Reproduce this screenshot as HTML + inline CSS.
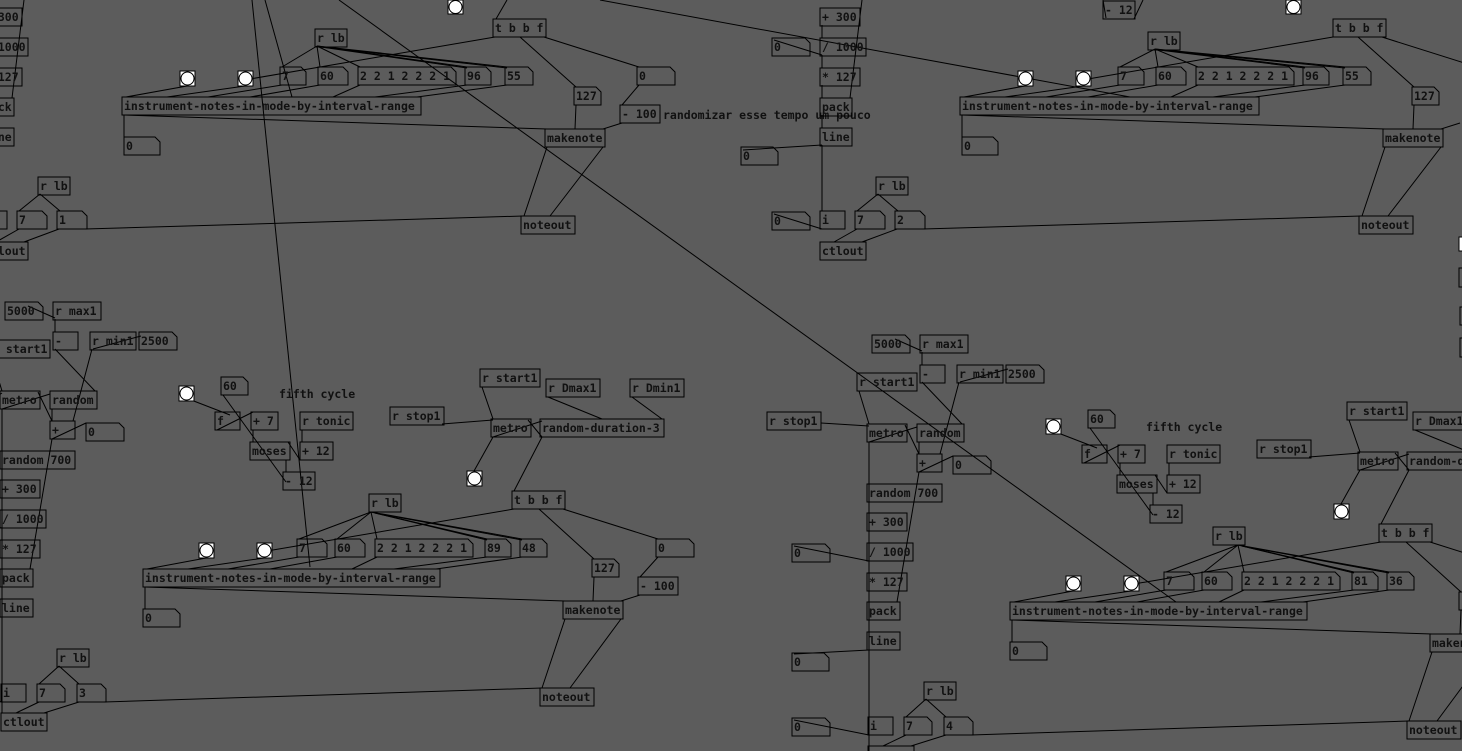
<!DOCTYPE html>
<html><head><meta charset="utf-8">
<style>
html,body{margin:0;padding:0;background:#5c5c5c;overflow:hidden}
svg{display:block}
text{font-family:"DejaVu Sans Mono","Liberation Mono",monospace;font-weight:bold;font-size:11.5px;fill:#111}
.o{fill:none;stroke:#000;stroke-width:1}
.a{fill:none;stroke:#000;stroke-width:1}
.b{fill:#fff;stroke:#000}
line{stroke:#000;stroke-width:1}
</style></head>
<body>
<svg width="1462" height="751" viewBox="0 0 1462 751" xmlns="http://www.w3.org/2000/svg">
<rect width="1462" height="751" fill="#5c5c5c"/>

<line x1="252" y1="0" x2="310" y2="567"/>
<line x1="265" y1="0" x2="292" y2="97"/>
<line x1="339" y1="0" x2="1176" y2="602"/>
<line x1="600" y1="0" x2="1130" y2="97"/>

<g transform="translate(0,0)">
<line x1="-16" y1="25" x2="-16" y2="38"/><line x1="-16" y1="55" x2="-16" y2="68"/><line x1="-16" y1="85" x2="-16" y2="98"/><line x1="-16" y1="115" x2="-16" y2="128"/><line x1="-16" y1="145" x2="-16" y2="211"/>
<line x1="-16" y1="145" x2="-95" y2="150"/>
<line x1="24" y1="0" x2="12" y2="98"/>
<line x1="-64" y1="40" x2="-16" y2="55"/>
<line x1="-64" y1="214" x2="-16" y2="229"/>
<line x1="40" y1="194" x2="19" y2="211"/><line x1="40" y1="194" x2="60" y2="211"/>
<line x1="19" y1="229" x2="-4" y2="242"/><line x1="59" y1="229" x2="24" y2="242"/>
<line x1="85" y1="229" x2="523" y2="216"/>
<line x1="507" y1="0" x2="496" y2="19"/>
<line x1="317" y1="46" x2="282" y2="67"/><line x1="317" y1="46" x2="320" y2="67"/><line x1="317" y1="46" x2="360" y2="67"/><line x1="317" y1="46" x2="467" y2="67"/><line x1="317" y1="46" x2="507" y2="67"/><line x1="321" y1="47" x2="467" y2="68"/><line x1="321" y1="47" x2="507" y2="68"/>
<line x1="495" y1="37" x2="250" y2="79"/><line x1="520" y1="37" x2="576" y2="87"/><line x1="544" y1="37" x2="639" y2="67"/>
<line x1="187" y1="86" x2="126" y2="97"/><line x1="245" y1="86" x2="167" y2="97"/><line x1="282" y1="85" x2="208" y2="97"/><line x1="320" y1="85" x2="250" y2="97"/><line x1="360" y1="85" x2="333" y2="97"/><line x1="467" y1="85" x2="375" y2="97"/><line x1="507" y1="85" x2="417" y2="97"/>
<line x1="124" y1="115" x2="124" y2="137"/><line x1="124" y1="115" x2="547" y2="129"/>
<line x1="576" y1="105" x2="575" y2="129"/><line x1="639" y1="85" x2="622" y2="105"/><line x1="622" y1="123" x2="603" y2="129"/>
<line x1="547" y1="147" x2="524" y2="216"/><line x1="603" y1="147" x2="550" y2="216"/>
<rect class="o" x="-18" y="8" width="40" height="18"/><text x="-16" y="21">+ 300</text>
<rect class="o" x="-18" y="38" width="46" height="18"/><text x="-16" y="51">/ 1000</text>
<rect class="o" x="-18" y="68" width="40" height="18"/><text x="-16" y="81">* 127</text>
<rect class="o" x="-18" y="98" width="32" height="18"/><text x="-16" y="111">pack</text>
<rect class="o" x="-18" y="128" width="32" height="18"/><text x="-16" y="141">line</text>
<rect class="o" x="-18" y="211" width="25" height="18"/><text x="-16" y="224">i</text>
<rect class="o" x="38" y="177" width="32" height="18"/><text x="40" y="190">r lb</text>
<rect class="o" x="-18" y="242" width="46" height="18"/><text x="-16" y="255">ctlout</text>
<path class="a" d="M-66,38h33l5,5v13h-38z"/><text x="-64" y="51">0</text>
<path class="a" d="M-97,147h32l5,5v13h-37z"/><text x="-95" y="160">0</text>
<path class="a" d="M-66,212h33l5,5v13h-38z"/><text x="-64" y="225">0</text>
<path class="a" d="M17,211h25l5,5v13h-30z"/><text x="19" y="224">7</text>
<path class="a" d="M57,211h25l5,5v13h-30z"/><text x="59" y="224">1</text>
<rect class="o" x="493" y="19" width="53" height="18"/><text x="495" y="32">t b b f</text>
<rect class="o" x="315" y="29" width="32" height="18"/><text x="317" y="42">r lb</text>
<rect class="b" x="448" y="0" width="15" height="14"/><circle class="b" cx="455.5" cy="7" r="6.5"/>
<rect class="b" x="180" y="71" width="15" height="15"/><circle class="b" cx="187.5" cy="78.5" r="6.5"/>
<rect class="b" x="238" y="71" width="15" height="15"/><circle class="b" cx="245.5" cy="78.5" r="6.5"/>
<path class="a" d="M280,67h21l5,5v13h-26z"/><text x="282" y="80">7</text>
<path class="a" d="M318,67h25l5,5v13h-30z"/><text x="320" y="80">60</text>
<path class="a" d="M358,67h93l5,5v13h-98z"/><text x="360" y="80">2 2 1 2 2 2 1</text>
<path class="a" d="M465,67h21l5,5v13h-26z"/><text x="467" y="80">96</text>
<path class="a" d="M505,67h23l5,5v13h-28z"/><text x="507" y="80">55</text>
<rect class="o" x="122" y="97" width="299" height="18"/><text x="124" y="110">instrument-notes-in-mode-by-interval-range</text>
<path class="a" d="M124,137h31l5,5v13h-36z"/><text x="126" y="150">0</text>
<path class="a" d="M637,67h33l5,5v13h-38z"/><text x="639" y="80">0</text>
<path class="a" d="M574,87h22l5,5v13h-27z"/><text x="576" y="100">127</text>
<rect class="o" x="620" y="105" width="40" height="18"/><text x="622" y="118">- 100</text>
<text x="663" y="119">randomizar esse tempo um pouco</text>
<rect class="o" x="545" y="129" width="60" height="18"/><text x="547" y="142">makenote</text>
<rect class="o" x="521" y="216" width="54" height="18"/><text x="523" y="229">noteout</text>
</g>

<g transform="translate(838,0)">
<line x1="-16" y1="25" x2="-16" y2="38"/><line x1="-16" y1="55" x2="-16" y2="68"/><line x1="-16" y1="85" x2="-16" y2="98"/><line x1="-16" y1="115" x2="-16" y2="128"/><line x1="-16" y1="145" x2="-16" y2="211"/>
<line x1="-16" y1="145" x2="-95" y2="150"/>
<line x1="24" y1="0" x2="12" y2="98"/>
<line x1="-64" y1="40" x2="-16" y2="55"/>
<line x1="-64" y1="214" x2="-16" y2="229"/>
<line x1="40" y1="194" x2="19" y2="211"/><line x1="40" y1="194" x2="60" y2="211"/>
<line x1="19" y1="229" x2="-4" y2="242"/><line x1="59" y1="229" x2="24" y2="242"/>
<line x1="85" y1="229" x2="523" y2="216"/>
<line x1="305" y1="0" x2="296" y2="19"/>
<line x1="265" y1="0" x2="268" y2="18"/>
<line x1="317" y1="49" x2="282" y2="67"/><line x1="317" y1="49" x2="320" y2="67"/><line x1="317" y1="49" x2="360" y2="67"/><line x1="317" y1="49" x2="467" y2="67"/><line x1="317" y1="49" x2="507" y2="67"/><line x1="321" y1="50" x2="467" y2="68"/><line x1="321" y1="50" x2="507" y2="68"/>
<line x1="495" y1="37" x2="250" y2="79"/><line x1="520" y1="37" x2="576" y2="87"/><line x1="544" y1="37" x2="639" y2="67"/>
<line x1="187" y1="86" x2="126" y2="97"/><line x1="245" y1="86" x2="167" y2="97"/><line x1="282" y1="85" x2="208" y2="97"/><line x1="320" y1="85" x2="250" y2="97"/><line x1="360" y1="85" x2="333" y2="97"/><line x1="467" y1="85" x2="375" y2="97"/><line x1="507" y1="85" x2="417" y2="97"/>
<line x1="124" y1="115" x2="124" y2="137"/><line x1="124" y1="115" x2="547" y2="129"/>
<line x1="576" y1="105" x2="575" y2="129"/><line x1="622" y1="123" x2="603" y2="129"/>
<line x1="547" y1="147" x2="524" y2="216"/><line x1="603" y1="147" x2="550" y2="216"/>
<rect class="o" x="-18" y="8" width="40" height="18"/><text x="-16" y="21">+ 300</text>
<rect class="o" x="-18" y="38" width="46" height="18"/><text x="-16" y="51">/ 1000</text>
<rect class="o" x="-18" y="68" width="40" height="18"/><text x="-16" y="81">* 127</text>
<rect class="o" x="-18" y="98" width="32" height="18"/><text x="-16" y="111">pack</text>
<rect class="o" x="-18" y="128" width="32" height="18"/><text x="-16" y="141">line</text>
<rect class="o" x="-18" y="211" width="25" height="18"/><text x="-16" y="224">i</text>
<rect class="o" x="38" y="177" width="32" height="18"/><text x="40" y="190">r lb</text>
<rect class="o" x="-18" y="242" width="46" height="18"/><text x="-16" y="255">ctlout</text>
<path class="a" d="M-66,38h33l5,5v13h-38z"/><text x="-64" y="51">0</text>
<path class="a" d="M-97,147h32l5,5v13h-37z"/><text x="-95" y="160">0</text>
<path class="a" d="M-66,212h33l5,5v13h-38z"/><text x="-64" y="225">0</text>
<path class="a" d="M17,211h25l5,5v13h-30z"/><text x="19" y="224">7</text>
<path class="a" d="M57,211h25l5,5v13h-30z"/><text x="59" y="224">2</text>
<rect class="o" x="265" y="1" width="32" height="18"/><text x="267" y="14">- 12</text>
<rect class="o" x="495" y="19" width="53" height="18"/><text x="497" y="32">t b b f</text>
<rect class="o" x="310" y="32" width="32" height="18"/><text x="312" y="45">r lb</text>
<rect class="b" x="448" y="0" width="15" height="14"/><circle class="b" cx="455.5" cy="7" r="6.5"/>
<rect class="b" x="180" y="71" width="15" height="15"/><circle class="b" cx="187.5" cy="78.5" r="6.5"/>
<rect class="b" x="238" y="71" width="15" height="15"/><circle class="b" cx="245.5" cy="78.5" r="6.5"/>
<path class="a" d="M280,67h21l5,5v13h-26z"/><text x="282" y="80">7</text>
<path class="a" d="M318,67h25l5,5v13h-30z"/><text x="320" y="80">60</text>
<path class="a" d="M358,67h93l5,5v13h-98z"/><text x="360" y="80">2 2 1 2 2 2 1</text>
<path class="a" d="M465,67h21l5,5v13h-26z"/><text x="467" y="80">96</text>
<path class="a" d="M505,67h23l5,5v13h-28z"/><text x="507" y="80">55</text>
<rect class="o" x="122" y="97" width="299" height="18"/><text x="124" y="110">instrument-notes-in-mode-by-interval-range</text>
<path class="a" d="M124,137h31l5,5v13h-36z"/><text x="126" y="150">0</text>
<path class="a" d="M574,87h22l5,5v13h-27z"/><text x="576" y="100">127</text>
<rect class="o" x="545" y="129" width="60" height="18"/><text x="547" y="142">makenote</text>
<rect class="o" x="521" y="216" width="54" height="18"/><text x="523" y="229">noteout</text>
</g>

<rect class="b" x="1459" y="237" width="10" height="14"/>
<rect class="o" x="1459" y="268" width="10" height="19"/>
<rect class="o" x="1460" y="307" width="10" height="18"/>
<rect class="o" x="1460" y="338" width="10" height="19"/>

<g transform="translate(0,0)">
<line x1="28" y1="306" x2="55" y2="318"/>
<line x1="55" y1="319" x2="55" y2="332"/><line x1="55" y1="349" x2="95" y2="391"/>
<line x1="92" y1="349" x2="73" y2="421"/><line x1="141" y1="336" x2="93" y2="349"/>
<line x1="-8" y1="358" x2="2" y2="391"/><line x1="-46" y1="424" x2="2" y2="393"/>
<line x1="2" y1="409" x2="2" y2="713"/>
<line x1="2" y1="409" x2="50" y2="394"/><line x1="38" y1="392" x2="52" y2="421"/>
<line x1="52" y1="409" x2="52" y2="421"/><line x1="52" y1="439" x2="86" y2="423"/><line x1="52" y1="439" x2="30" y2="569"/>
<line x1="-73" y1="513" x2="2" y2="528"/><line x1="2" y1="617" x2="-73" y2="621"/><line x1="-73" y1="687" x2="2" y2="702"/>
<line x1="59" y1="666" x2="39" y2="684"/><line x1="59" y1="666" x2="79" y2="684"/>
<line x1="39" y1="702" x2="16" y2="713"/><line x1="79" y1="702" x2="44" y2="713"/>
<line x1="104" y1="702" x2="542" y2="688"/>
<line x1="186" y1="398" x2="230" y2="415"/><line x1="223" y1="395" x2="286" y2="482"/>
<line x1="217" y1="430" x2="253" y2="412"/><line x1="253" y1="430" x2="253" y2="442"/>
<line x1="302" y1="430" x2="302" y2="442"/><line x1="288" y1="442" x2="300" y2="460"/><line x1="286" y1="460" x2="286" y2="472"/>
<line x1="482" y1="387" x2="493" y2="419"/><line x1="442" y1="424" x2="493" y2="420"/>
<line x1="548" y1="397" x2="602" y2="419"/><line x1="632" y1="397" x2="662" y2="419"/>
<line x1="493" y1="437" x2="474" y2="471"/><line x1="493" y1="437" x2="542" y2="421"/><line x1="528" y1="420" x2="542" y2="437"/>
<line x1="542" y1="437" x2="514" y2="491"/>
<line x1="514" y1="509" x2="267" y2="551"/><line x1="539" y1="509" x2="594" y2="559"/><line x1="563" y1="509" x2="658" y2="539"/>
<line x1="371" y1="512" x2="299" y2="539"/><line x1="371" y1="512" x2="337" y2="539"/><line x1="371" y1="512" x2="377" y2="539"/><line x1="371" y1="512" x2="487" y2="539"/><line x1="371" y1="512" x2="522" y2="539"/><line x1="375" y1="513" x2="487" y2="540"/><line x1="375" y1="513" x2="522" y2="540"/>
<line x1="206" y1="558" x2="147" y2="569"/><line x1="264" y1="558" x2="188" y2="569"/><line x1="299" y1="557" x2="228" y2="569"/><line x1="337" y1="557" x2="270" y2="569"/><line x1="377" y1="557" x2="352" y2="569"/><line x1="487" y1="557" x2="394" y2="569"/><line x1="522" y1="557" x2="436" y2="569"/>
<line x1="145" y1="587" x2="145" y2="609"/><line x1="145" y1="587" x2="565" y2="601"/>
<line x1="594" y1="577" x2="593" y2="601"/><line x1="658" y1="557" x2="640" y2="577"/><line x1="640" y1="595" x2="621" y2="601"/>
<line x1="565" y1="619" x2="542" y2="688"/><line x1="621" y1="619" x2="570" y2="688"/>
<path class="a" d="M5,302h33l5,5v13h-38z"/><text x="7" y="315">5000</text>
<rect class="o" x="53" y="302" width="48" height="18"/><text x="55" y="315">r max1</text>
<rect class="o" x="53" y="332" width="25" height="18"/><text x="55" y="345">-</text>
<rect class="o" x="90" y="332" width="46" height="18"/><text x="92" y="345">r min1</text>
<path class="a" d="M139,332h33l5,5v13h-38z"/><text x="141" y="345">2500</text>
<rect class="o" x="-10" y="340" width="60" height="18"/><text x="-8" y="353">r start1</text>
<rect class="o" x="-100" y="407" width="54" height="18"/><text x="-98" y="420">r stop1</text>
<rect class="o" x="0" y="391" width="40" height="18"/><text x="2" y="404">metro</text>
<rect class="o" x="50" y="391" width="47" height="18"/><text x="52" y="404">random</text>
<rect class="o" x="50" y="421" width="25" height="18"/><text x="52" y="434">+</text>
<path class="a" d="M86,423h33l5,5v13h-38z"/><text x="88" y="436">0</text>
<rect class="o" x="0" y="451" width="75" height="18"/><text x="2" y="464">random 700</text>
<rect class="o" x="0" y="480" width="40" height="18"/><text x="2" y="493">+ 300</text>
<rect class="o" x="0" y="510" width="46" height="18"/><text x="2" y="523">/ 1000</text>
<rect class="o" x="0" y="540" width="40" height="18"/><text x="2" y="553">* 127</text>
<rect class="o" x="0" y="569" width="33" height="18"/><text x="2" y="582">pack</text>
<rect class="o" x="0" y="599" width="33" height="18"/><text x="2" y="612">line</text>
<path class="a" d="M-75,511h33l5,5v13h-38z"/><text x="-73" y="524">0</text>
<path class="a" d="M-75,620h32l5,5v13h-37z"/><text x="-73" y="633">0</text>
<path class="a" d="M-75,685h33l5,5v13h-38z"/><text x="-73" y="698">0</text>
<rect class="o" x="1" y="684" width="25" height="18"/><text x="3" y="697">i</text>
<path class="a" d="M37,684h23l5,5v13h-28z"/><text x="39" y="697">7</text>
<path class="a" d="M77,684h24l5,5v13h-29z"/><text x="79" y="697">3</text>
<rect class="o" x="1" y="713" width="46" height="18"/><text x="3" y="726">ctlout</text>
<rect class="o" x="57" y="649" width="32" height="18"/><text x="59" y="662">r lb</text>
<rect class="b" x="179" y="386" width="15" height="15"/><circle class="b" cx="186.5" cy="393.5" r="6.5"/>
<path class="a" d="M221,377h22l5,5v13h-27z"/><text x="223" y="390">60</text>
<text x="279" y="398">fifth cycle</text>
<rect class="o" x="215" y="412" width="25" height="18"/><text x="217" y="425">f</text>
<rect class="o" x="251" y="412" width="27" height="18"/><text x="253" y="425">+ 7</text>
<rect class="o" x="300" y="412" width="53" height="18"/><text x="302" y="425">r tonic</text>
<rect class="o" x="250" y="442" width="40" height="18"/><text x="252" y="455">moses</text>
<rect class="o" x="300" y="442" width="33" height="18"/><text x="302" y="455">+ 12</text>
<rect class="o" x="283" y="472" width="32" height="18"/><text x="285" y="485">- 12</text>
<rect class="o" x="480" y="369" width="60" height="18"/><text x="482" y="382">r start1</text>
<rect class="o" x="546" y="379" width="54" height="18"/><text x="548" y="392">r Dmax1</text>
<rect class="o" x="630" y="379" width="54" height="18"/><text x="632" y="392">r Dmin1</text>
<rect class="o" x="390" y="407" width="54" height="18"/><text x="392" y="420">r stop1</text>
<rect class="o" x="491" y="419" width="40" height="18"/><text x="493" y="432">metro</text>
<rect class="o" x="540" y="419" width="124" height="18"/><text x="542" y="432">random-duration-3</text>
<rect class="b" x="467" y="471" width="15" height="15"/><circle class="b" cx="474.5" cy="478.5" r="6.5"/>
<rect class="o" x="512" y="491" width="53" height="18"/><text x="514" y="504">t b b f</text>
<rect class="o" x="369" y="494" width="32" height="18"/><text x="371" y="507">r lb</text>
<rect class="b" x="199" y="543" width="15" height="15"/><circle class="b" cx="206.5" cy="550.5" r="6.5"/>
<rect class="b" x="257" y="543" width="15" height="15"/><circle class="b" cx="264.5" cy="550.5" r="6.5"/>
<path class="a" d="M297,539h25l5,5v13h-30z"/><text x="299" y="552">7</text>
<path class="a" d="M335,539h25l5,5v13h-30z"/><text x="337" y="552">60</text>
<path class="a" d="M375,539h93l5,5v13h-98z"/><text x="377" y="552">2 2 1 2 2 2 1</text>
<path class="a" d="M485,539h21l5,5v13h-26z"/><text x="487" y="552">89</text>
<path class="a" d="M520,539h22l5,5v13h-27z"/><text x="522" y="552">48</text>
<path class="a" d="M656,539h33l5,5v13h-38z"/><text x="658" y="552">0</text>
<path class="a" d="M592,559h22l5,5v13h-27z"/><text x="594" y="572">127</text>
<rect class="o" x="638" y="577" width="40" height="18"/><text x="640" y="590">- 100</text>
<rect class="o" x="143" y="569" width="297" height="18"/><text x="145" y="582">instrument-notes-in-mode-by-interval-range</text>
<path class="a" d="M143,609h32l5,5v13h-37z"/><text x="145" y="622">0</text>
<rect class="o" x="563" y="601" width="60" height="18"/><text x="565" y="614">makenote</text>
<rect class="o" x="540" y="688" width="54" height="18"/><text x="542" y="701">noteout</text>
</g>

<g transform="translate(867,33)">
<line x1="28" y1="306" x2="55" y2="318"/>
<line x1="55" y1="319" x2="55" y2="332"/><line x1="55" y1="349" x2="95" y2="391"/>
<line x1="92" y1="349" x2="73" y2="421"/><line x1="141" y1="336" x2="93" y2="349"/>
<line x1="-8" y1="358" x2="2" y2="391"/><line x1="-46" y1="390" x2="2" y2="393"/>
<line x1="2" y1="409" x2="2" y2="718"/>
<line x1="2" y1="409" x2="50" y2="394"/><line x1="38" y1="392" x2="52" y2="421"/>
<line x1="52" y1="409" x2="52" y2="421"/><line x1="52" y1="439" x2="86" y2="423"/><line x1="52" y1="439" x2="30" y2="569"/>
<line x1="-73" y1="513" x2="2" y2="528"/><line x1="2" y1="617" x2="-73" y2="621"/><line x1="-73" y1="687" x2="2" y2="702"/>
<line x1="59" y1="666" x2="39" y2="684"/><line x1="59" y1="666" x2="79" y2="684"/>
<line x1="39" y1="702" x2="16" y2="713"/><line x1="79" y1="702" x2="44" y2="713"/>
<line x1="104" y1="702" x2="542" y2="688"/>
<line x1="186" y1="398" x2="230" y2="415"/><line x1="223" y1="395" x2="286" y2="482"/>
<line x1="217" y1="430" x2="253" y2="412"/><line x1="253" y1="430" x2="253" y2="442"/>
<line x1="302" y1="430" x2="302" y2="442"/><line x1="288" y1="442" x2="300" y2="460"/><line x1="286" y1="460" x2="286" y2="472"/>
<line x1="482" y1="387" x2="493" y2="419"/><line x1="442" y1="424" x2="493" y2="420"/>
<line x1="548" y1="397" x2="602" y2="419"/>
<line x1="493" y1="437" x2="474" y2="471"/><line x1="493" y1="437" x2="542" y2="421"/><line x1="528" y1="420" x2="542" y2="437"/>
<line x1="542" y1="437" x2="514" y2="491"/>
<line x1="514" y1="509" x2="267" y2="551"/><line x1="539" y1="509" x2="594" y2="559"/><line x1="563" y1="509" x2="658" y2="539"/>
<line x1="371" y1="512" x2="299" y2="539"/><line x1="371" y1="512" x2="337" y2="539"/><line x1="371" y1="512" x2="377" y2="539"/><line x1="371" y1="512" x2="487" y2="539"/><line x1="371" y1="512" x2="522" y2="539"/><line x1="375" y1="513" x2="487" y2="540"/><line x1="375" y1="513" x2="522" y2="540"/>
<line x1="206" y1="558" x2="147" y2="569"/><line x1="264" y1="558" x2="188" y2="569"/><line x1="299" y1="557" x2="228" y2="569"/><line x1="337" y1="557" x2="270" y2="569"/><line x1="377" y1="557" x2="352" y2="569"/><line x1="487" y1="557" x2="394" y2="569"/><line x1="522" y1="557" x2="436" y2="569"/>
<line x1="145" y1="587" x2="145" y2="609"/><line x1="145" y1="587" x2="565" y2="601"/>
<line x1="594" y1="577" x2="593" y2="601"/>
<line x1="565" y1="619" x2="542" y2="688"/><line x1="621" y1="619" x2="570" y2="688"/>
<path class="a" d="M5,302h33l5,5v13h-38z"/><text x="7" y="315">5000</text>
<rect class="o" x="53" y="302" width="48" height="18"/><text x="55" y="315">r max1</text>
<rect class="o" x="53" y="332" width="25" height="18"/><text x="55" y="345">-</text>
<rect class="o" x="90" y="332" width="46" height="18"/><text x="92" y="345">r min1</text>
<path class="a" d="M139,332h33l5,5v13h-38z"/><text x="141" y="345">2500</text>
<rect class="o" x="-10" y="340" width="60" height="18"/><text x="-8" y="353">r start1</text>
<rect class="o" x="-100" y="379" width="54" height="18"/><text x="-98" y="392">r stop1</text>
<rect class="o" x="0" y="391" width="40" height="18"/><text x="2" y="404">metro</text>
<rect class="o" x="50" y="391" width="47" height="18"/><text x="52" y="404">random</text>
<rect class="o" x="50" y="421" width="25" height="18"/><text x="52" y="434">+</text>
<path class="a" d="M86,423h33l5,5v13h-38z"/><text x="88" y="436">0</text>
<rect class="o" x="0" y="451" width="75" height="18"/><text x="2" y="464">random 700</text>
<rect class="o" x="0" y="480" width="40" height="18"/><text x="2" y="493">+ 300</text>
<rect class="o" x="0" y="510" width="46" height="18"/><text x="2" y="523">/ 1000</text>
<rect class="o" x="0" y="540" width="40" height="18"/><text x="2" y="553">* 127</text>
<rect class="o" x="0" y="569" width="33" height="18"/><text x="2" y="582">pack</text>
<rect class="o" x="0" y="599" width="33" height="18"/><text x="2" y="612">line</text>
<path class="a" d="M-75,511h33l5,5v13h-38z"/><text x="-73" y="524">0</text>
<path class="a" d="M-75,620h32l5,5v13h-37z"/><text x="-73" y="633">0</text>
<path class="a" d="M-75,685h33l5,5v13h-38z"/><text x="-73" y="698">0</text>
<rect class="o" x="1" y="684" width="25" height="18"/><text x="3" y="697">i</text>
<path class="a" d="M37,684h23l5,5v13h-28z"/><text x="39" y="697">7</text>
<path class="a" d="M77,684h24l5,5v13h-29z"/><text x="79" y="697">4</text>
<rect class="o" x="1" y="713" width="46" height="18"/>
<rect class="o" x="57" y="649" width="32" height="18"/><text x="59" y="662">r lb</text>
<rect class="b" x="179" y="386" width="15" height="15"/><circle class="b" cx="186.5" cy="393.5" r="6.5"/>
<path class="a" d="M221,377h22l5,5v13h-27z"/><text x="223" y="390">60</text>
<text x="279" y="398">fifth cycle</text>
<rect class="o" x="215" y="412" width="25" height="18"/><text x="217" y="425">f</text>
<rect class="o" x="251" y="412" width="27" height="18"/><text x="253" y="425">+ 7</text>
<rect class="o" x="300" y="412" width="53" height="18"/><text x="302" y="425">r tonic</text>
<rect class="o" x="250" y="442" width="40" height="18"/><text x="252" y="455">moses</text>
<rect class="o" x="300" y="442" width="33" height="18"/><text x="302" y="455">+ 12</text>
<rect class="o" x="283" y="472" width="32" height="18"/><text x="285" y="485">- 12</text>
<rect class="o" x="480" y="369" width="60" height="18"/><text x="482" y="382">r start1</text>
<rect class="o" x="546" y="379" width="54" height="18"/><text x="548" y="392">r Dmax1</text>
<rect class="o" x="390" y="407" width="54" height="18"/><text x="392" y="420">r stop1</text>
<rect class="o" x="491" y="419" width="40" height="18"/><text x="493" y="432">metro</text>
<rect class="o" x="540" y="419" width="124" height="18"/><text x="542" y="432">random-duration-3</text>
<rect class="b" x="467" y="471" width="15" height="15"/><circle class="b" cx="474.5" cy="478.5" r="6.5"/>
<rect class="o" x="512" y="491" width="53" height="18"/><text x="514" y="504">t b b f</text>
<rect class="o" x="346" y="494" width="32" height="18"/><text x="348" y="507">r lb</text>
<rect class="b" x="199" y="543" width="15" height="15"/><circle class="b" cx="206.5" cy="550.5" r="6.5"/>
<rect class="b" x="257" y="543" width="15" height="15"/><circle class="b" cx="264.5" cy="550.5" r="6.5"/>
<path class="a" d="M297,539h25l5,5v13h-30z"/><text x="299" y="552">7</text>
<path class="a" d="M335,539h25l5,5v13h-30z"/><text x="337" y="552">60</text>
<path class="a" d="M375,539h93l5,5v13h-98z"/><text x="377" y="552">2 2 1 2 2 2 1</text>
<path class="a" d="M485,539h21l5,5v13h-26z"/><text x="487" y="552">81</text>
<path class="a" d="M520,539h22l5,5v13h-27z"/><text x="522" y="552">36</text>
<path class="a" d="M592,559h22l5,5v13h-27z"/><text x="594" y="572">127</text>
<rect class="o" x="143" y="569" width="297" height="18"/><text x="145" y="582">instrument-notes-in-mode-by-interval-range</text>
<path class="a" d="M143,609h32l5,5v13h-37z"/><text x="145" y="622">0</text>
<rect class="o" x="563" y="601" width="60" height="18"/><text x="565" y="614">makenote</text>
<rect class="o" x="540" y="688" width="54" height="18"/><text x="542" y="701">noteout</text>
</g>
</svg>
</body></html>
